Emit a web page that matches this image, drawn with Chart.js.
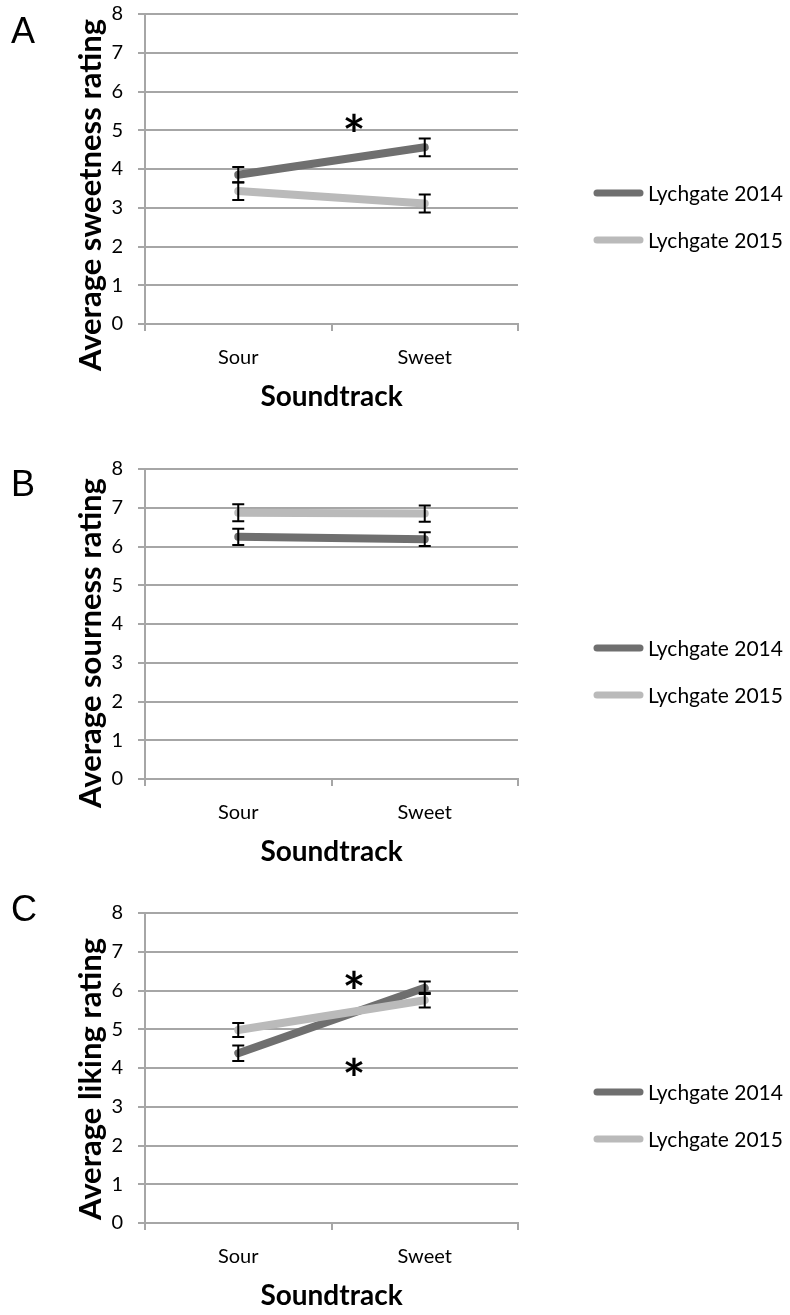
<!DOCTYPE html>
<html>
<head>
<meta charset="utf-8">
<script src="https://cdn.jsdelivr.net/npm/chart.js@4.4.1/dist/chart.umd.min.js"></script>
<style>
  body { margin: 0; background: #fff; width: 790px; height: 1315px; position: relative; overflow: hidden; }
  canvas { position: absolute; left: 0; }
</style>
</head>
<body>
<canvas id="chartA" width="790" height="440" style="top:-26px"></canvas>
<canvas id="chartB" width="790" height="440" style="top:429px"></canvas>
<canvas id="chartC" width="790" height="440" style="top:873px"></canvas>
<script>
const soundtracks = ['Sour', 'Sweet'];
const seriesNames = ['Lychgate 2014', 'Lychgate 2015'];
const seriesColors = ['#6f6f6f', '#bababa'];

// A: sweetness
const sweet2014 = [3.85, 4.56];
const sweet2015 = [3.43, 3.11];
const sweetErr2014 = [0.2, 0.23];
const sweetErr2015 = [0.23, 0.23];
const sweetStars = [{ x: 0.62, y: 5.19 }];

// B: sourness
const sour2014 = [6.25, 6.19];
const sour2015 = [6.87, 6.85];
const sourErr2014 = [0.21, 0.18];
const sourErr2015 = [0.22, 0.21];
const sourStars = [];

// C: liking
const liking2014 = [4.38, 6.07];
const liking2015 = [4.98, 5.75];
const likingErr2014 = [0.2, 0.16];
const likingErr2015 = [0.18, 0.19];
const likingStars = [{ x: 0.62, y: 6.29 }, { x: 0.62, y: 4.05 }];

const yMin = 0, yMax = 8, yStep = 1;

const FONT = 'Lato, "Open Sans", sans-serif';
const gridColor = '#a6a6a6';

// error bars, panel letter, rotated y title, asterisks, legend
const panelText = {
  id: 'panelText',
  afterDatasetsDraw(chart) {
    const ctx = chart.ctx;
    const y = chart.scales.y;
    ctx.save();
    ctx.strokeStyle = '#000';
    ctx.lineWidth = 2;
    chart.data.datasets.forEach((ds, i) => {
      const meta = chart.getDatasetMeta(i);
      meta.data.forEach((pt, j) => {
        const e = ds.err[j];
        const top = y.getPixelForValue(ds.data[j] + e);
        const bot = y.getPixelForValue(ds.data[j] - e);
        ctx.beginPath();
        ctx.moveTo(pt.x, top); ctx.lineTo(pt.x, bot);
        ctx.moveTo(pt.x - 6, top); ctx.lineTo(pt.x + 6, top);
        ctx.moveTo(pt.x - 6, bot); ctx.lineTo(pt.x + 6, bot);
        ctx.stroke();
      });
    });
    ctx.restore();
  },
  afterDraw(chart, args, opts) {
    const ctx = chart.ctx;
    const xs = chart.scales.x, ys = chart.scales.y;
    const area = chart.chartArea;
    ctx.save();

    ctx.fillStyle = '#000';
    ctx.font = '36px "Liberation Sans", Arial, sans-serif';
    ctx.textAlign = 'left';
    ctx.textBaseline = 'middle';
    ctx.fillText(opts.letter, 11, opts.letterY);

    ctx.save();
    ctx.translate(91, opts.titleY);
    ctx.rotate(-Math.PI / 2);
    ctx.font = 'bold 31px ' + FONT;
    ctx.textAlign = 'center';
    ctx.textBaseline = 'middle';
    ctx.fillText(opts.title, 0, 0);
    ctx.restore();

    ctx.font = 'bold 54px ' + FONT;
    ctx.textAlign = 'center';
    ctx.textBaseline = 'alphabetic';
    opts.stars.forEach(s => {
      const m = ctx.measureText('*');
      const px = xs.getPixelForValue(s.x);
      const py = ys.getPixelForValue(s.y);
      const off = (m.actualBoundingBoxAscent - m.actualBoundingBoxDescent) / 2;
      ctx.fillText('*', px, py + off);
    });

    ctx.font = '21px ' + FONT;
    ctx.textAlign = 'left';
    ctx.textBaseline = 'middle';
    chart.data.datasets.forEach((ds, i) => {
      const ly = area.top + 179 + i * 47;
      ctx.strokeStyle = ds.borderColor;
      ctx.lineWidth = 7;
      ctx.lineCap = 'round';
      ctx.beginPath();
      ctx.moveTo(597, ly); ctx.lineTo(640, ly);
      ctx.stroke();
      ctx.fillStyle = '#000';
      ctx.fillText(ds.label, 648, ly + 1);
    });
    ctx.restore();
  }
};

function makeChart(id, s2014, s2015, e2014, e2015, cfg) {
  new Chart(document.getElementById(id), {
    type: 'line',
    data: {
      labels: soundtracks,
      datasets: [
        { label: seriesNames[0], data: s2014, err: e2014, borderColor: seriesColors[0], order: 1 },
        { label: seriesNames[1], data: s2015, err: e2015, borderColor: seriesColors[1], order: 0 }
      ]
    },
    options: {
      responsive: false,
      animation: false,
      devicePixelRatio: 1,
      layout: { padding: { top: 40, right: 272, bottom: 0, left: 0 } },
      elements: {
        line: { borderWidth: 8, borderCapStyle: 'round', tension: 0 },
        point: { radius: 0, hoverRadius: 0 }
      },
      plugins: {
        legend: { display: false },
        tooltip: { enabled: false },
        panelText: cfg
      },
      scales: {
        x: {
          offset: true,
          afterFit(scale) { scale.height = 90; },
          grid: { offset: true, drawOnChartArea: false, color: gridColor, lineWidth: 2, tickLength: 7 },
          border: { color: gridColor, width: 2 },
          ticks: { color: '#000', font: { family: FONT, size: 20 }, padding: 15 },
          title: {
            display: true, text: 'Soundtrack', color: '#000',
            font: { family: FONT, size: 28, weight: 'bold' }, padding: { top: 12, bottom: 0 }
          }
        },
        y: {
          min: yMin, max: yMax,
          afterFit(scale) { scale.width = 145; },
          grid: { color: gridColor, lineWidth: 2, tickLength: 7 },
          border: { color: gridColor, width: 2 },
          ticks: { stepSize: yStep, color: '#000', font: { family: FONT, size: 20 }, padding: 15 }
        }
      }
    },
    plugins: [panelText]
  });
}

makeChart('chartA', sweet2014, sweet2015, sweetErr2014, sweetErr2015,
  { letter: 'A', letterY: 59, title: 'Average sweetness rating', titleY: 221, stars: sweetStars });
makeChart('chartB', sour2014, sour2015, sourErr2014, sourErr2015,
  { letter: 'B', letterY: 57, title: 'Average sourness rating', titleY: 214, stars: sourStars });
makeChart('chartC', liking2014, liking2015, likingErr2014, likingErr2015,
  { letter: 'C', letterY: 38, title: 'Average liking rating', titleY: 206, stars: likingStars });
</script>
</body>
</html>
